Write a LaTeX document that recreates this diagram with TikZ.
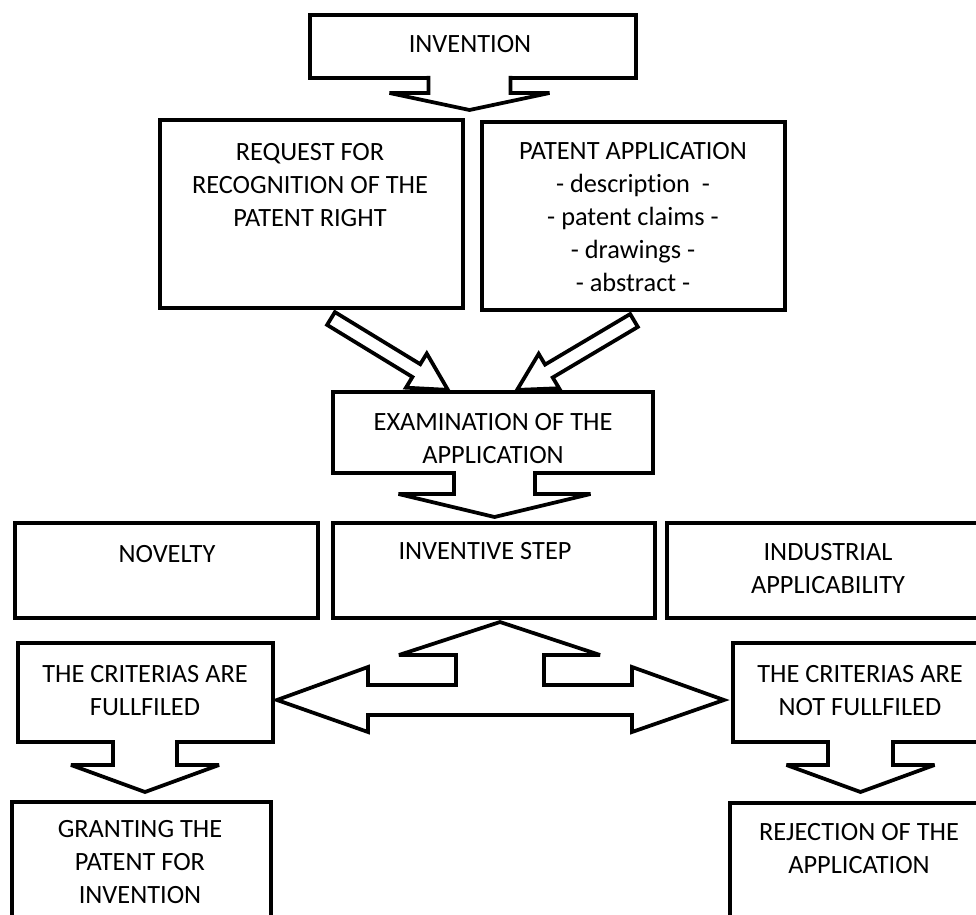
\documentclass[tikz,border=0pt]{standalone}
\usepackage{fontspec}
\setmainfont[Ligatures=NoCommon]{Carlito}
\usepackage{tikz}

% one unit of the drawing
\newcommand{\pxl}{0.02cm}

\begin{document}
\begin{tikzpicture}[x=0.02cm, y=-0.02cm,
    box/.style={draw, line width=0.08cm, inner sep=0pt},
    lbl/.style={align=center, anchor=north, inner sep=0pt, font=\fontsize{15}{18.8}\selectfont},
    blk/.style={draw, fill=white, line width=0.075cm, miter limit=4}]
    \useasboundingbox (0,0) rectangle (976,915);
    \clip (0,0) rectangle (976,915);

    % Boxes
    \node[box, minimum width=326*\pxl, minimum height=63*\pxl] (inv) at (473,46.5) {};
    \node[box, minimum width=303*\pxl, minimum height=188*\pxl] (req) at (311.5,214) {};
    \node[box, minimum width=303*\pxl, minimum height=188*\pxl] (pat) at (633.5,216) {};
    \node[box, minimum width=320*\pxl, minimum height=81*\pxl] (exam) at (493,432.5) {};
    \node[box, minimum width=303*\pxl, minimum height=95*\pxl] (nov) at (166.5,570.5) {};
    \node[box, minimum width=322*\pxl, minimum height=95*\pxl] (step) at (494,570.5) {};
    \node[box, minimum width=323*\pxl, minimum height=95*\pxl] (ind) at (828.5,570.5) {};
    \node[box, minimum width=255*\pxl, minimum height=99*\pxl] (okcrit) at (145.5,692.5) {};
    \node[box, minimum width=254*\pxl, minimum height=99*\pxl] (nocrit) at (860,692.5) {};
    \node[box, minimum width=259*\pxl, minimum height=138*\pxl] (grant) at (141.5,871) {};
    \node[box, minimum width=258*\pxl, minimum height=138*\pxl] (rej) at (859,872) {};

    % Box texts
    \node[lbl] (invtxt) at (470,35) {INVENTION};
    \node[lbl] (reqtxt) at (310,143) {REQUEST FOR\\RECOGNITION OF THE\\PATENT RIGHT};
    \node[lbl] (pattxt) at (633,142) {PATENT APPLICATION\\- description~ -\\- patent claims -\\- drawings -\\- abstract -};
    \node[lbl] (examtxt) at (493,413) {EXAMINATION OF THE\\APPLICATION};
    \node[lbl] (novtxt) at (167,545) {NOVELTY};
    \node[lbl] (steptxt) at (485,542) {INVENTIVE STEP};
    \node[lbl] (indtxt) at (828,543) {INDUSTRIAL\\APPLICABILITY};
    \node[lbl] (oktxt) at (145,665) {THE CRITERIAS ARE\\FULLFILED};
    \node[lbl] (notxt) at (860,665) {THE CRITERIAS ARE\\NOT FULLFILED};
    \node[lbl] (granttxt) at (140,820) {GRANTING THE\\PATENT FOR\\INVENTION};
    \node[lbl] (rejtxt) at (859,823) {REJECTION OF THE\\APPLICATION};

    % Downward block arrows hanging under a box
    \foreach \cx/\tp/\sw/\wy/\ww/\ty in {469.5/78/41/93/80/110, 494.5/473/40.5/494/96/517,
                                         145/742/32/765/74/792, 860.5/742/32.5/765/74/792}
        \draw[blk] (\cx-\sw,\tp-2) -- (\cx-\sw,\wy) -- (\cx-\ww,\wy) -- (\cx,\ty)
            -- (\cx+\ww,\wy) -- (\cx+\sw,\wy) -- (\cx+\sw,\tp-2);

    % Slanted arrows into the examination
    \foreach \tx/\ty/\ang/\len in {331/318.5/-31.4/137, 634/320.5/-149.3/136}
        \draw[blk, shift={(\tx,\ty)}, rotate=\ang] (0,-7.5) -- (\len-37,-7.5) -- (\len-37,-20)
            -- (\len,0) -- (\len-37,20) -- (\len-37,7.5) -- (0,7.5) -- cycle;

    % Three-way arrow under the criteria
    \draw[blk] (500,622) -- (600,655) -- (544,655) -- (544,685) -- (632,685) -- (632,667)
        -- (724,700) -- (632,732) -- (632,715) -- (368,715) -- (368,732) -- (277,700)
        -- (368,667) -- (368,685) -- (456,685) -- (456,655) -- (399,655) -- cycle;
\end{tikzpicture}
\end{document}
